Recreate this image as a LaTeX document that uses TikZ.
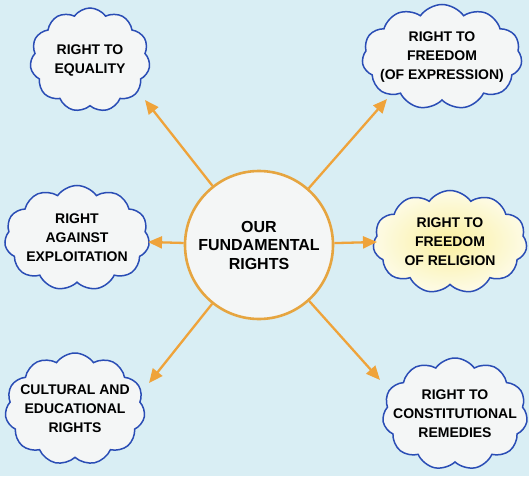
\documentclass[tikz,border=0pt]{standalone}
\usepackage{fontspec}
\setmainfont{Liberation Sans}
\usetikzlibrary{shapes.symbols,arrows.meta}
\definecolor{bg}{HTML}{D9EEF4}
\definecolor{cloudline}{HTML}{2A4DB5}
\definecolor{arr}{HTML}{EFA33A}
\definecolor{ring}{HTML}{E6A540}
\definecolor{cfill}{HTML}{F4F6F6}
\definecolor{yel}{HTML}{FAF0A0}
\definecolor{yeledge}{HTML}{FDFBE6}
\begin{document}
\begin{tikzpicture}[x=1pt,y=-1pt,
  cl/.style={cloud, cloud puffs=11, cloud puff arc=110, cloud ignores aspect, draw=cloudline, line width=1.5pt,
    fill=cfill, inner sep=0pt},
  ctext/.style={font=\bfseries\fontsize{14}{19}\selectfont, align=center, inner sep=0pt},
  link/.style={draw=arr, line width=2.3pt, -{Triangle[length=14pt,width=12pt]}}]
\useasboundingbox (0,0) rectangle (529,476);
\fill[bg] (0,0) rectangle (529,476);

\node[circle, draw=ring, line width=2.6pt, fill=cfill, minimum size=148pt, inner sep=0pt,
  font=\bfseries\fontsize{16}{18.5}\selectfont, align=center] (c) at (259,245) {OUR\\FUNDAMENTAL\\RIGHTS};

\node[cl, minimum width=120pt, minimum height=104pt] (eq) at (90,60) {};
\node[cl, minimum width=160pt, minimum height=105pt] (fe) at (442,57) {};
\node[cl, minimum width=145pt, minimum height=105pt] (ex) at (77,238) {};
\node[cl, minimum width=154pt, minimum height=103pt, inner color=yel, outer color=yeledge] (re) at (450,242) {};
\node[cl, minimum width=140pt, minimum height=112pt] (ce) at (75,409) {};
\node[cl, minimum width=145pt, minimum height=112pt] (cr) at (455,414) {};

\node[ctext] (eqt) at (eq) {RIGHT TO\\EQUALITY};
\node[ctext] (fet) at (fe) {RIGHT TO\\FREEDOM\\(OF EXPRESSION)};
\node[ctext] (ext) at (ex) {RIGHT\\AGAINST\\EXPLOITATION};
\node[ctext] (ret) at (re) {RIGHT TO\\FREEDOM\\OF RELIGION};
\node[ctext] (cet) at (ce) {CULTURAL AND\\EDUCATIONAL\\RIGHTS};
\node[ctext] (crt) at (cr) {RIGHT TO\\CONSTITUTIONAL\\REMEDIES};

\coordinate (t1) at (145,100);
\coordinate (t2) at (387,99);
\coordinate (t3) at (148,242);
\coordinate (t4) at (377,242);
\coordinate (t5) at (149,383);
\coordinate (t6) at (380,380);
\draw[link] (c) -- (t1);
\draw[link] (c) -- (t2);
\draw[link] (c) -- (t3);
\draw[link] (c) -- (t4);
\draw[link] (c) -- (t5);
\draw[link] (c) -- (t6);
\end{tikzpicture}
\end{document}
